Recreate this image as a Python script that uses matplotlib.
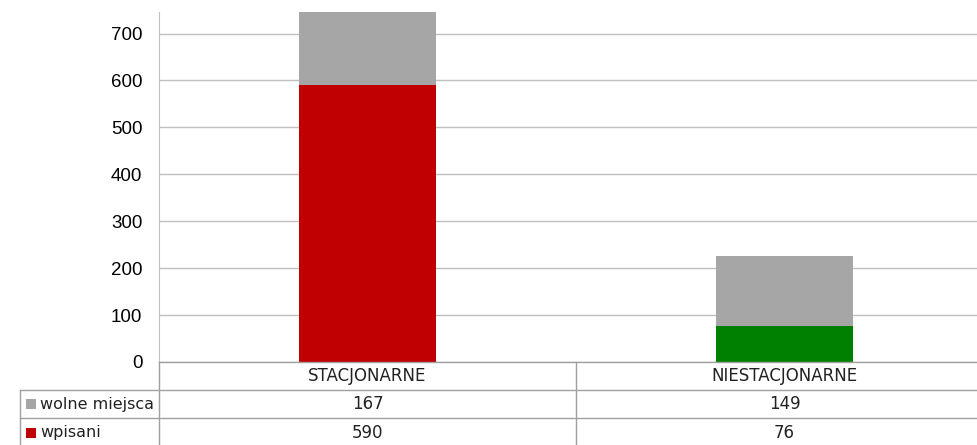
import matplotlib
matplotlib.use("Agg")
import matplotlib.pyplot as plt
import matplotlib.transforms as mtransforms
from matplotlib.lines import Line2D
from matplotlib.patches import Rectangle

categories = ["STACJONARNE", "NIESTACJONARNE"]
wpisani = [590, 76]
wolne = [167, 149]
series_labels = ["wolne miejsca", "wpisani"]
wpisani_colors = ["#C00000", "#008000"]
wolne_color = "#A6A6A6"
yticks = [0, 100, 200, 300, 400, 500, 600, 700]

W, H = 977, 445
fig = plt.figure(figsize=(W / 100, H / 100), dpi=100)

# plot area in pixels (right edge runs past the image)
left, right, top, bottom = 159, 993, 12, 362
ax = fig.add_axes([left / W, (H - bottom) / H, (right - left) / W, (bottom - top) / H])

x = list(range(len(categories)))
ax.bar(x, wpisani, width=0.33, color=wpisani_colors, zorder=3)
ax.bar(x, wolne, width=0.33, bottom=wpisani, color=wolne_color, zorder=3)

ax.set_xlim(-0.5, len(categories) - 0.5)
ax.set_ylim(0, 746)
ax.set_yticks(yticks)
ax.set_yticklabels([str(t) for t in yticks], fontsize=13.5, family="Liberation Sans")
ax.tick_params(axis="y", length=0, pad=12)
ax.set_xticks([])
ax.grid(axis="y", color="#BFBFBF", linewidth=1, zorder=0)
for s in ["top", "right", "bottom"]:
    ax.spines[s].set_visible(False)
ax.spines["left"].set_color("#BFBFBF")

# data table under the chart
line_kw = dict(color="#A0A0A0", linewidth=1)
def fy(py):
    return (H - py) / H
def fx(px):
    return px / W

rows = [362, 390, 418, 447]
fig.add_artist(Line2D([fx(left), 1], [fy(rows[0])] * 2, **line_kw))
for r in rows[1:3]:
    fig.add_artist(Line2D([fx(20), 1], [fy(r)] * 2, **line_kw))
fig.add_artist(Line2D([fx(20)] * 2, [fy(rows[1]), 0], **line_kw))

blend = mtransforms.blended_transform_factory(ax.transData, fig.transFigure)
for i in range(len(categories) + 1):
    fig.add_artist(Line2D([i - 0.5] * 2, [fy(rows[0]), 0], transform=blend, **line_kw))

for i, cat in enumerate(categories):
    ax.text(i, fy((rows[0] + rows[1]) / 2), cat, transform=blend, ha="center",
            va="center", fontsize=12, color="#222222")
    ax.text(i, fy((rows[1] + rows[2]) / 2), str(wolne[i]), transform=blend,
            ha="center", va="center", fontsize=12, color="#222222")
    ax.text(i, fy((rows[2] + rows[3]) / 2), str(wpisani[i]), transform=blend,
            ha="center", va="center", fontsize=12, color="#222222")

legend_colors = [wolne_color, wpisani_colors[0]]
for j, (lab, col) in enumerate(zip(series_labels, legend_colors)):
    yc = (rows[j + 1] + rows[j + 2]) / 2
    fig.add_artist(Rectangle((fx(26), fy(yc + 5)), 10 / W, 10 / H,
                             facecolor=col, edgecolor="none"))
    fig.text(fx(40), fy(yc), lab, ha="left", va="center", fontsize=11.5,
             color="#222222")

fig.savefig("out.png", dpi=100)
